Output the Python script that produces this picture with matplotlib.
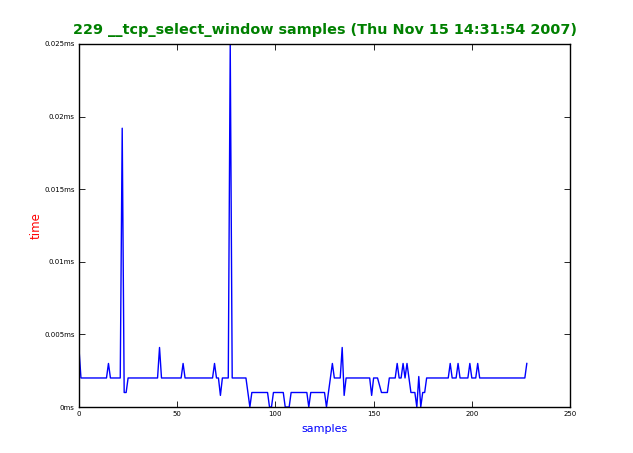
import numpy as np
import matplotlib
matplotlib.use("Agg")
import matplotlib.pyplot as plt

# tiempos por muestra (ms)
tiempos = [0.004] + [0.002] * 14 + [0.003] + [0.002] * 6 + [0.0192, 0.001, 0.001] \
    + [0.002] * 16 + [0.0041] + [0.002] * 11 + [0.003] + [0.002] * 15 + [0.003] \
    + [0.002, 0.002, 0.0008] + [0.002] * 4 + [0.025] + [0.002] * 8 + [0.001, 0.0] \
    + [0.001] * 9 + [0.0, 0.0] + [0.001] * 6 + [0.0] * 3 + [0.001] * 9 + [0.0] \
    + [0.001] * 8 + [0.0, 0.001, 0.002, 0.003] + [0.002] * 4 + [0.0041, 0.0008] \
    + [0.002] * 13 + [0.0008] + [0.002] * 3 + [0.0015] + [0.001] * 4 + [0.002] * 4 \
    + [0.003, 0.002, 0.002, 0.003, 0.002, 0.003, 0.002] + [0.001] * 3 \
    + [0.0, 0.0021, 0.0, 0.001, 0.001] + [0.002] * 12 + [0.003] + [0.002] * 3 \
    + [0.003] + [0.002] * 5 + [0.003] + [0.002] * 3 + [0.003] + [0.002] * 24 + [0.003]

muestras = np.arange(len(tiempos))

xticks = [0, 50, 100, 150, 200, 250]
yticks = [0, 0.005, 0.01, 0.015, 0.02, 0.025]
ylabels = ["0ms", "0.005ms", "0.01ms", "0.015ms", "0.02ms", "0.025ms"]

fig = plt.figure(figsize=(6.33, 4.53), dpi=100)
ax = fig.add_axes([0.1248, 0.1015, 0.7757, 0.8014])

ax.plot(muestras, tiempos, color="#0000ff", linewidth=1.0)

ax.set_xlim(0, 250)
ax.set_ylim(0, 0.025)
ax.set_xticks(xticks)
ax.set_xticklabels([str(t) for t in xticks])
ax.set_yticks(yticks)
ax.set_yticklabels(ylabels)
ax.tick_params(direction="in", length=4, width=0.6, labelsize=5,
               top=True, right=True, pad=3)
for s in ax.spines.values():
    s.set_linewidth(1.0)

ax.set_xlabel("samples", color="blue", fontsize=8, labelpad=5)
ax.set_ylabel("time", color="red", fontsize=8.5, labelpad=1)
ax.set_title("%d __tcp_select_window samples (Thu Nov 15 14:31:54 2007)" % len(tiempos),
             color="green", fontsize=10.4, fontweight="bold", pad=7)

fig.savefig("out.png", dpi=100)
